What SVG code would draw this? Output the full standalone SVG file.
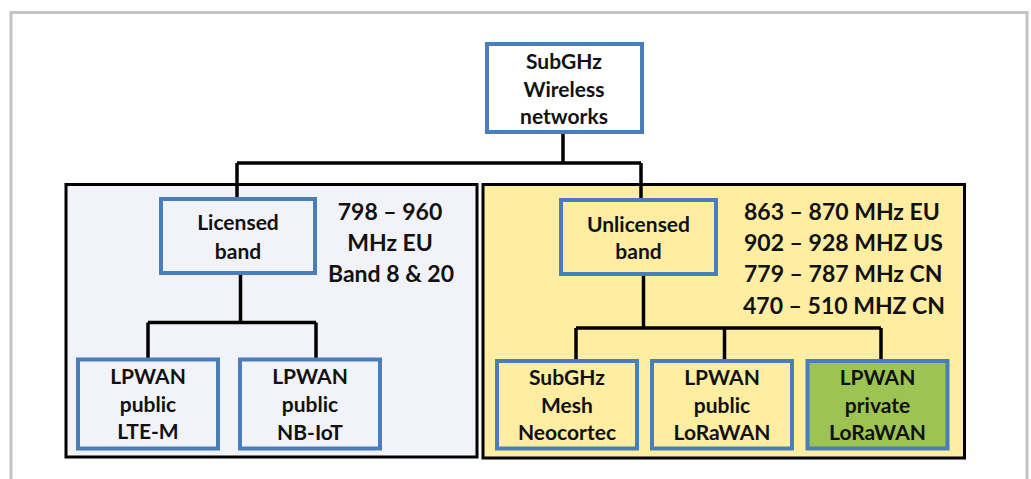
<svg xmlns="http://www.w3.org/2000/svg" width="1031" height="479" viewBox="0 0 1031 479">
<style>
.node{stroke:#4a7ebb;stroke-width:4}
.region{stroke:#000;stroke-width:3}
.lbl{font-family:Lato,"Open Sans",sans-serif;font-weight:700;font-size:21px;fill:#111;text-anchor:middle}
.freq{font-family:Lato,"Open Sans",sans-serif;font-weight:700;font-size:23px;fill:#111}
.conn{stroke:#000;stroke-width:3.5;fill:none;stroke-linejoin:miter}
</style>
<rect x="0" y="0" width="1031" height="479" fill="#fff"/>
<rect x="11" y="12.5" width="1016" height="500" fill="#fff" stroke="#c3c3c3" stroke-width="3"/>
<g id="region-licensed">
<rect class="region" x="66" y="184.5" width="411" height="272.5" fill="#f2f3f9"/>
<text class="freq" text-anchor="middle" x="390" y="220">798 – 960</text>
<text class="freq" text-anchor="middle" x="390" y="251">MHz EU</text>
<text class="freq" text-anchor="middle" x="391" y="282">Band 8 &amp; 20</text>
</g>
<g id="region-unlicensed">
<rect class="region" x="483" y="184.5" width="481.5" height="273.5" fill="#ffeda1"/>
<text class="freq" x="744" y="220">863 – 870 MHz EU</text>
<text class="freq" x="744" y="251">902 – 928 MHZ US</text>
<text class="freq" x="744" y="282">779 – 787 MHz CN</text>
<text class="freq" x="743" y="313.5">470 – 510 MHZ CN</text>
</g>
<g id="connectors">
<path class="conn" d="M563,132 V163 M237,163 H641 M237,163 V199 M641,163 V200"/>
<path class="conn" d="M240.5,273 V322.5 M148,322.5 H316 M148,322.5 V359 M316,322.5 V359"/>
<path class="conn" d="M643.5,274 V328 M576,328 H881 M576,328 V361 M724.5,328 V361 M881,328 V361"/>
</g>
<g id="node-root">
<rect class="node" x="487" y="44" width="155" height="88" fill="#fff"/>
<text class="lbl" x="564" y="69">SubGHz</text>
<text class="lbl" x="564" y="97">Wireless</text>
<text class="lbl" x="564" y="123.5">networks</text>
</g>
<g id="node-licensed">
<rect class="node" x="161" y="199" width="154" height="74" fill="#f2f3f9"/>
<text class="lbl" x="238" y="230">Licensed</text>
<text class="lbl" x="238" y="258.5">band</text>
</g>
<g id="node-unlicensed">
<rect class="node" x="561" y="200" width="155" height="74" fill="#ffeda1"/>
<text class="lbl" x="638.5" y="231.5">Unlicensed</text>
<text class="lbl" x="638.5" y="259">band</text>
</g>
<g id="node-ltem">
<rect class="node" x="78" y="359.5" width="140" height="89" fill="#f2f3f9"/>
<text class="lbl" x="148" y="383.5">LPWAN</text>
<text class="lbl" x="148" y="411.5">public</text>
<text class="lbl" x="148" y="439">LTE-M</text>
</g>
<g id="node-nbiot">
<rect class="node" x="240" y="359.5" width="140" height="89" fill="#f2f3f9"/>
<text class="lbl" x="310" y="384">LPWAN</text>
<text class="lbl" x="310" y="412">public</text>
<text class="lbl" x="310" y="439.5">NB-IoT</text>
</g>
<g id="node-mesh">
<rect class="node" x="497" y="361" width="140" height="87.5" fill="#ffeda1"/>
<text class="lbl" x="567" y="385">SubGHz</text>
<text class="lbl" x="567" y="412.5">Mesh</text>
<text class="lbl" x="567" y="440">Neocortec</text>
</g>
<g id="node-public-lorawan">
<rect class="node" x="652" y="361" width="140" height="87.5" fill="#ffeda1"/>
<text class="lbl" x="722" y="385">LPWAN</text>
<text class="lbl" x="722" y="412.5">public</text>
<text class="lbl" x="722" y="440">LoRaWAN</text>
</g>
<g id="node-private-lorawan">
<rect class="node" x="807.5" y="361" width="140" height="87.5" fill="#9dc353"/>
<text class="lbl" x="877.5" y="385">LPWAN</text>
<text class="lbl" x="877.5" y="412.5">private</text>
<text class="lbl" x="877.5" y="440">LoRaWAN</text>
</g>
</svg>
